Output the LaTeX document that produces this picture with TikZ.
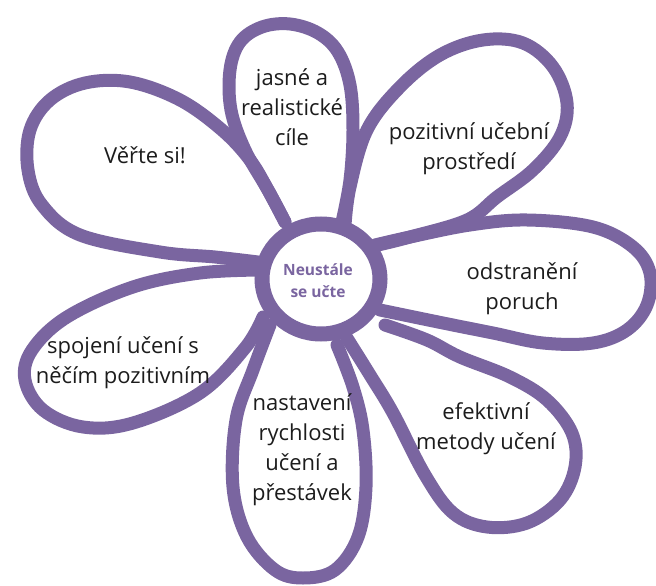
\documentclass[tikz,border=0pt]{standalone}
\usepackage{fontspec}
\setmainfont{Open Sans}
\definecolor{petalpurple}{RGB}{122,101,160}
\definecolor{txtdark}{RGB}{28,28,28}
\begin{document}
\begin{tikzpicture}[x=1pt,y=-1pt,
  petal/.style={draw=petalpurple,line width=13pt,line cap=round,line join=round},
  ring/.style={draw=petalpurple,line width=15pt,fill=white},
  label/.style={text=txtdark,align=center,font=\fontsize{22}{30}\selectfont,inner sep=0pt},
  core/.style={text=petalpurple,align=center,font=\bfseries\fontsize{15.5}{22}\selectfont,inner sep=0pt}]
\useasboundingbox (0,0) rectangle (656,586);
% top petal
\draw[petal] plot[smooth,tension=0.6] coordinates {(285,222) (268,190) (245,150) (231,110) (230,70) (240,42) (262,27) (290,24) (318,33) (338,52) (350,85) (353,130) (350,180) (342,222)};
% upper-left petal
\draw[petal] plot[smooth,tension=0.6] coordinates {(285,222) (268,190) (250,160) (222,130) (180,100) (130,82) (85,83) (50,100) (30,130) (28,170) (42,205) (80,235) (160,252) (215,257) (258,262)};
% lower-left petal
\draw[petal] plot[smooth,tension=0.6] coordinates {(262,270) (200,273) (133,287) (67,317) (32,350) (25,380) (43,410) (83,427) (133,423) (200,393) (245,348) (263,317)};
% bottom petal
\draw[petal] plot[smooth,tension=0.6] coordinates {(270,325) (253,370) (236,420) (233,487) (247,537) (275,570) (303,578) (335,570) (358,537) (366,487) (363,430) (353,387) (337,345)};
% lower-right petal
\draw[petal] plot[smooth,tension=0.6] coordinates {(345,335) (370,375) (393,413) (425,475) (453,513) (487,527) (527,523) (560,500) (575,467) (572,433) (547,400) (510,377) (460,357) (427,340) (385,325)};
% right petal
\draw[petal] plot[smooth,tension=0.6] coordinates {(380,310) (443,323) (493,333) (543,343) (593,343) (627,330) (647,305) (650,273) (633,247) (593,227) (527,220) (470,225) (410,237) (375,245)};
% upper-right petal
\draw[petal] plot[smooth,tension=0.6] coordinates {(345,225) (350,187) (367,130) (400,87) (440,55) (483,40) (523,43) (553,67) (567,103) (560,137) (533,170) (497,197) (467,220) (410,237) (378,245)};
% centre
\draw[ring] (321,279) ellipse [x radius=59, y radius=55];
\node[core] (centre) at (318,281) {Neustále\\se učte};
\node[label] (p1) at (292,107) {jasné a\\realistické\\cíle};
\node[label] (p2) at (145,155) {Věřte si!};
\node[label] (p3) at (469,149) {pozitivní učební\\prostředí};
\node[label] (p4) at (522,289) {odstranění\\poruch};
\node[label] (p5) at (486,429) {efektivní\\metody učení};
\node[label] (p6) at (302,450) {nastavení\\rychlosti\\učení a\\přestávek};
\node[label] (p7) at (123,363) {spojení učení s\\něčím pozitivním};
\end{tikzpicture}
\end{document}
